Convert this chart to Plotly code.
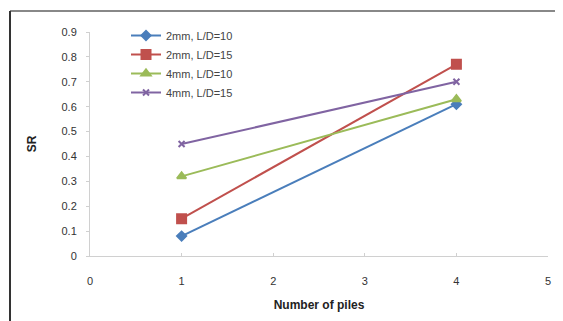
import plotly.graph_objects as go

x_piles = [1, 4]
series_names = ["2mm, L/D=10", "2mm, L/D=15", "4mm, L/D=10", "4mm, L/D=15"]
s_2mm_10 = [0.08, 0.61]
s_2mm_15 = [0.15, 0.77]
s_4mm_10 = [0.32, 0.63]
s_4mm_15 = [0.45, 0.70]
colors = ["#4a7ebb", "#c0504d", "#9bbb59", "#8064a2"]
symbols = ["diamond", "square", "triangle-up", "x-thin-open"]
sizes = [7, 9, 8, 6]
values = [s_2mm_10, s_2mm_15, s_4mm_10, s_4mm_15]

fig = go.Figure()
for name, vals, c, sym, sz in zip(series_names, values, colors, symbols, sizes):
    fig.add_trace(go.Scatter(
        x=x_piles, y=vals, name=name, mode="lines+markers",
        line=dict(color=c, width=2),
        marker=dict(symbol=sym, size=sz, color=c, line=dict(color=c, width=2)),
    ))

OFF = 8  # page body margin
W, H = 563 - OFF, 321 - OFF
# plot area in reference pixels: x 90..548, y 32..256
L = 90 - OFF
R = W - (548 - OFF)
T = 32 - OFF
B = H - (256 - OFF)
pw, ph = W - L - R, H - T - B

def px(xp):
    return (xp - OFF - L) / pw

def py(yp):
    return (H - B - (yp - OFF)) / ph

fig.update_layout(
    width=W, height=H,
    margin=dict(l=L, r=R, t=T, b=B, autoexpand=False),
    paper_bgcolor="white", plot_bgcolor="white",
    font=dict(family="Liberation Sans, Arial, sans-serif", size=11, color="#333333"),
    showlegend=True,
    legend=dict(x=px(126), y=py(21), xanchor="left", yanchor="top",
                bgcolor="rgba(0,0,0,0)", font=dict(size=11, color="#444444"),
                tracegroupgap=4, itemwidth=30),
    xaxis=dict(range=[0, 5], dtick=1, showgrid=False, zeroline=False, automargin=False,
               showline=True, linecolor="#d0d0d0", linewidth=1,
               ticks="inside", ticklen=3, tickcolor="#d0d0d0",
               ticklabelstandoff=15,
               title=dict(text="<b>Number of piles</b>", font=dict(size=12, color="#222222"), standoff=14)),
    yaxis=dict(range=[0, 0.9], dtick=0.1, showgrid=False, zeroline=False, automargin=False,
               showline=True, linecolor="#d0d0d0", linewidth=1,
               ticks="outside", ticklen=3, tickcolor="#d0d0d0",
               tickformat="~g", ticklabelstandoff=7,
               title=dict(text="<b>SR</b>", font=dict(size=12, color="#222222"), standoff=22)),
    shapes=[
        dict(type="line", xref="paper", yref="paper", x0=px(10), x1=px(563), y0=py(11), y1=py(11),
             line=dict(color="#888888", width=2)),
        dict(type="line", xref="paper", yref="paper", x0=px(10), x1=px(10), y0=py(11), y1=py(321),
             line=dict(color="#333333", width=2)),
    ],
)

fig.write_html("out.html")
